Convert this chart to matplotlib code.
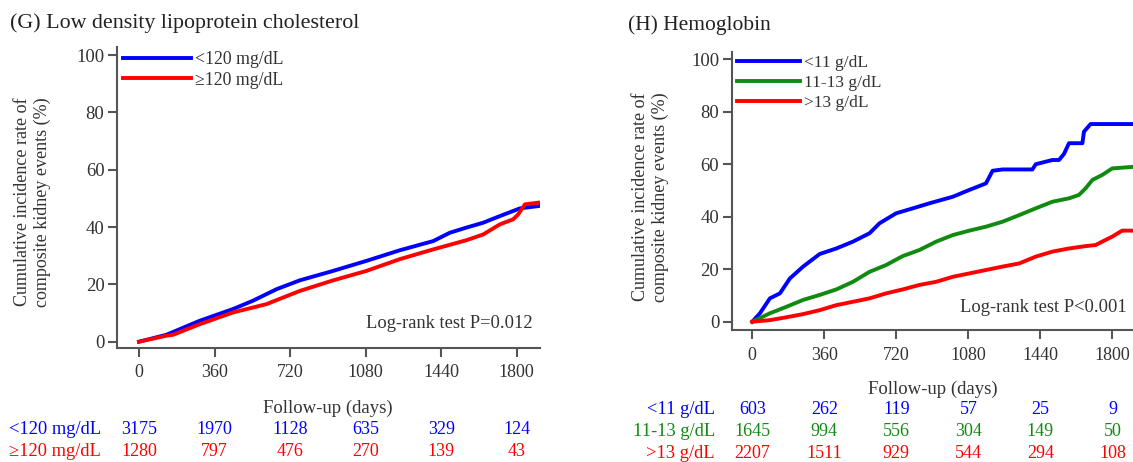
import matplotlib
matplotlib.use('Agg')
import matplotlib.pyplot as plt
from matplotlib.transforms import blended_transform_factory

plt.rcParams['font.family'] = ['Liberation Serif', 'DejaVu Serif']

# ---- (G) LDL cholesterol curves (days, %)
g_low_days = [0, 130, 289, 448, 543, 655, 766, 925, 1084, 1243, 1402, 1481, 1560, 1640, 1719, 1815, 1902]
g_low_vals = [0, 2.4, 7.3, 11.4, 14.3, 18.3, 21.4, 24.7, 28.2, 31.9, 35.1, 38.0, 39.8, 41.5, 43.8, 46.5, 47.3]
g_high_days = [0, 130, 162, 289, 448, 607, 766, 925, 1084, 1243, 1402, 1560, 1640, 1719, 1783, 1807, 1839, 1902]
g_high_vals = [0, 2.1, 2.4, 6.1, 10.2, 13.1, 17.7, 21.4, 24.7, 28.8, 32.2, 35.4, 37.4, 40.9, 42.7, 44.4, 47.9, 48.5]
g_labels = ['<120 mg/dL', '\u2265120 mg/dL']

# ---- (H) Hemoglobin curves
h_low_days = [0, 38, 88, 138, 188, 254, 337, 420, 503, 586, 636, 719, 803, 885, 1002, 1085, 1168, 1201, 1251,
              1400, 1417, 1500, 1533, 1558, 1583, 1650, 1658, 1691, 1905]
h_low_vals = [0, 3.2, 8.9, 10.8, 16.5, 21.0, 25.8, 27.9, 30.5, 33.7, 37.5, 41.3, 43.2, 45.1, 47.6, 50.2, 52.7, 57.5, 58.0,
              58.0, 60.0, 61.6, 61.6, 63.9, 68.0, 68.0, 72.4, 75.3, 75.3]
h_mid_days = [0, 88, 171, 254, 337, 420, 503, 586, 669, 752, 835, 919, 1002, 1085, 1168, 1251, 1334, 1417, 1500,
              1583, 1633, 1666, 1700, 1749, 1799, 1905]
h_mid_vals = [0, 3.2, 5.7, 8.3, 10.2, 12.3, 15.2, 19.0, 21.6, 25.0, 27.3, 30.5, 33.0, 34.7, 36.2, 38.1, 40.6, 43.2, 45.7,
              47.0, 48.3, 50.8, 54.0, 55.9, 58.4, 59.0]
h_high_days = [0, 88, 171, 254, 337, 420, 503, 586, 669, 752, 835, 919, 1002, 1085, 1168, 1251, 1334, 1417, 1500,
               1583, 1666, 1716, 1749, 1799, 1849, 1905]
h_high_vals = [0, 0.6, 1.7, 2.9, 4.4, 6.3, 7.6, 8.9, 10.8, 12.3, 14.0, 15.2, 17.1, 18.4, 19.7, 21.0, 22.2, 24.8, 26.7,
               27.9, 28.8, 29.2, 30.5, 32.4, 34.7, 34.7]
h_labels = ['<11 g/dL', '11-13 g/dL', '>13 g/dL']

xticks = [0, 360, 720, 1080, 1440, 1800]
g_risk = [[3175, 1970, 1128, 635, 329, 124],
          [1280, 797, 476, 270, 139, 43]]
h_risk = [[603, 262, 119, 57, 25, 9],
          [1645, 994, 556, 304, 149, 50],
          [2207, 1511, 929, 544, 294, 108]]

BLUE, RED, GREEN = '#0000ff', '#ff0000', '#108a10'
GRAY = '#333333'
W, H = 1133, 462

fig = plt.figure(figsize=(W / 100, H / 100), dpi=100)


def fx(x):
    return x / W


def fy(y):
    return 1 - y / H


def px_ax(x0, x1, y_top, y_bot):
    return fig.add_axes([fx(x0), fy(y_bot), (x1 - x0) / W, (y_bot - y_top) / H])


def style(ax, xpad):
    for s in ['top', 'right']:
        ax.spines[s].set_visible(False)
    for s in ['left', 'bottom']:
        ax.spines[s].set_color('#555555')
        ax.spines[s].set_linewidth(1.5)
    ax.tick_params(direction='out', length=6.5, width=1.5, color='#555555',
                   labelsize=13, labelcolor=GRAY)
    ax.tick_params(axis='x', pad=xpad)
    ax.tick_params(axis='y', pad=2.5, labelsize=13.5)
    ax.set_yticks([0, 20, 40, 60, 80, 100])
    ax.set_xticks(xticks)


ylab = 'Cumulative incidence rate of\ncomposite kidney events (%)'

# ---------- left panel
axg = px_ax(117, 540, 46.7, 348.3)
axg.plot(g_low_days, g_low_vals, color=BLUE, lw=2.8, label=g_labels[0])
axg.plot(g_high_days, g_high_vals, color=RED, lw=2.8, label=g_labels[1])
axg.set_xlim(-105, 1911)
axg.set_ylim(-2.3, 102.9)
style(axg, 4.5)
axg.legend(loc='upper left', bbox_to_anchor=(fx(123), fy(51)), bbox_transform=fig.transFigure,
           frameon=False, fontsize=12.8, handlelength=3.8, handletextpad=0.25, labelspacing=0.2,
           borderpad=0, borderaxespad=0, labelcolor=GRAY)
fig.text(fx(32.5), fy(202), ylab, rotation=90, ha='center', va='center', multialignment='center',
         fontsize=13, color=GRAY, linespacing=1.2)
fig.text(fx(532), fy(323), 'Log-rank test P=0.012', ha='right', va='center', fontsize=13.3, color=GRAY)
fig.text(fx(10), fy(23), '(G) Low density lipoprotein cholesterol', fontsize=15.8, va='center', ha='left',
         color='#222222')

tg = blended_transform_factory(axg.transData, fig.transFigure)
axg.text(901, fy(408.3), 'Follow-up (days)', transform=tg, ha='center', va='center', fontsize=13.5, color=GRAY)
for row, lab, col, yp in zip(g_risk, g_labels, [BLUE, RED], [429.3, 451]):
    fig.text(fx(9), fy(yp), lab, color=col, fontsize=13.3, ha='left', va='center')
    for xv, n in zip(xticks, row):
        axg.text(xv, fy(yp), str(n), transform=tg, color=col, fontsize=13, ha='center', va='center')

# ---------- right panel
axh = px_ax(731.7, 1145, 51.7, 330)
axh.plot(h_low_days, h_low_vals, color=BLUE, lw=2.8, label=h_labels[0])
axh.plot(h_mid_days, h_mid_vals, color=GREEN, lw=2.8, label=h_labels[1])
axh.plot(h_high_days, h_high_vals, color=RED, lw=2.8, label=h_labels[2])
axh.set_xlim(-103, 1963)
axh.set_ylim(-3.16, 102.86)
style(axh, 5.5)
axh.legend(loc='upper left', bbox_to_anchor=(fx(736.7), fy(55)), bbox_transform=fig.transFigure,
           frameon=False, fontsize=12.5, handlelength=3.63, handletextpad=0.25, labelspacing=0.21,
           borderpad=0, borderaxespad=0, labelcolor=GRAY)
fig.text(fx(650.8), fy(197), ylab, rotation=90, ha='center', va='center', multialignment='center',
         fontsize=13, color=GRAY, linespacing=1.2)
fig.text(fx(1127), fy(307.3), 'Log-rank test P<0.001', ha='right', va='center', fontsize=13.3, color=GRAY)
fig.text(fx(628.3), fy(25), '(H) Hemoglobin', fontsize=15.5, va='center', ha='left', color='#222222')

th = blended_transform_factory(axh.transData, fig.transFigure)
axh.text(901, fy(389.3), 'Follow-up (days)', transform=th, ha='center', va='center', fontsize=13.5, color=GRAY)
for row, lab, col, yp in zip(h_risk, h_labels, [BLUE, GREEN, RED], [410, 431.7, 453.3]):
    fig.text(fx(715), fy(yp), lab, color=col, fontsize=13.3, ha='right', va='center')
    for xv, n in zip(xticks, row):
        axh.text(xv, fy(yp), str(n), transform=th, color=col, fontsize=13, ha='center', va='center')

fig.savefig('out.png', dpi=100)
